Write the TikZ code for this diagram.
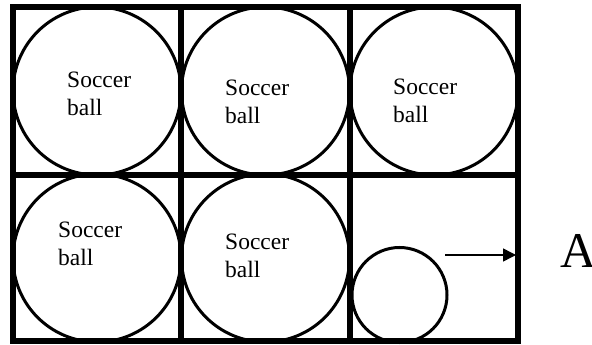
\documentclass[tikz,border=0pt]{standalone}
\usepackage{fontspec}
\setmainfont{Liberation Serif}
\usetikzlibrary{arrows.meta}
\begin{document}
\begin{tikzpicture}[x=1pt,y=-1pt,
  gridline/.style={line width=5.5pt,line cap=rect},
  ball/.style={circle,draw,line width=3pt,inner sep=0pt,fill=white},
  lbl/.style={anchor=north west,inner sep=0pt,align=left,font=\fontsize{23.5}{27.5}\selectfont}]
\useasboundingbox (0,0) rectangle (592,345);
% balls
\node[ball,minimum size=168pt] (b1) at (97,91) {};
\node[ball,minimum size=168pt] (b2) at (265.5,91) {};
\node[ball,minimum size=168pt] (b3) at (434,91) {};
\node[ball,minimum size=168pt] (b4) at (97,258) {};
\node[ball,minimum size=168pt] (b5) at (265.5,258) {};
\node[ball,minimum size=95pt] (b6) at (399.5,295) {};
% grid
\draw[gridline] (13,7) rectangle (518,341);
\draw[gridline] (181,7) -- (181,341);
\draw[gridline] (350,7) -- (350,341);
\draw[gridline] (13,175) -- (518,175);
% labels
\node[lbl] (t1) at (67,72) {Soccer\\ball};
\node[lbl] (t2) at (225,80) {Soccer\\ball};
\node[lbl] (t3) at (393,79) {Soccer\\ball};
\node[lbl] (t4) at (58,222) {Soccer\\ball};
\node[lbl] (t5) at (225,234) {Soccer\\ball};
% arrow and A
\coordinate (s) at (445,255);
\coordinate (e) at (516,255);
\draw[line width=1.5pt,-{Triangle[length=13pt,width=13pt]}] (s) -- (e);
\node[anchor=base west,inner sep=0pt,font=\fontsize{50}{60}\selectfont] (A) at (560,267) {A};
\end{tikzpicture}
\end{document}
